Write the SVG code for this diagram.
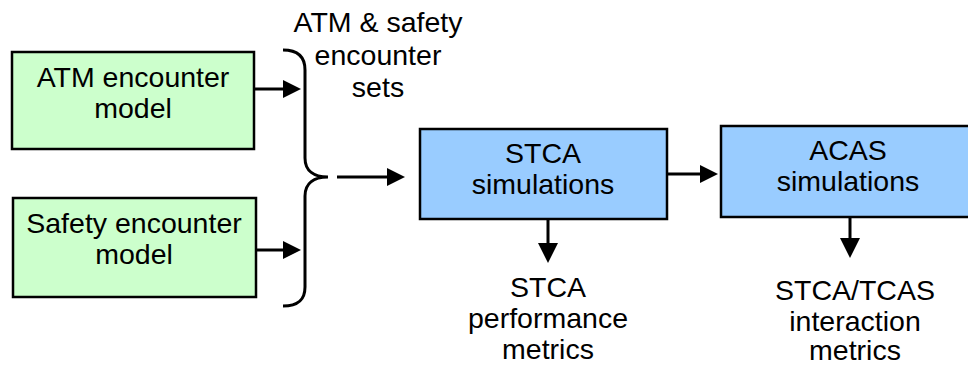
<svg xmlns="http://www.w3.org/2000/svg" width="968" height="367" viewBox="0 0 968 367">
<style>
text{font-family:"Liberation Sans",Arial,sans-serif;font-size:28.5px;fill:#000;text-anchor:middle}
.g{fill:#ccffcc;stroke:#000;stroke-width:2.5}
.b{fill:#99ccff;stroke:#000;stroke-width:2.5}
.l{stroke:#000;stroke-width:3;fill:none}
.h{fill:#000}
</style>
<rect width="968" height="367" fill="#fff"/>
<g id="atm-model">
<rect class="g" x="12" y="52" width="242" height="97"/>
<text x="133" y="87">ATM encounter</text>
<text x="133" y="118">model</text>
</g>
<g id="safety-model">
<rect class="g" x="13" y="198" width="243" height="99"/>
<text x="134" y="233">Safety encounter</text>
<text x="134" y="264">model</text>
</g>
<g id="encounter-sets">
<path class="l" d="M283,50 C298,50 305,57 305,70 L305,158 C305,171 314,177 328,177 C314,177 305,183 305,196 L305,287 C305,300 298,306 283,306"/>
<text x="378" y="32">ATM &amp; safety</text>
<text x="378" y="65">encounter</text>
<text x="378" y="97">sets</text>
</g>
<g id="stca-sim">
<rect class="b" x="420" y="129" width="247" height="90"/>
<text x="543" y="163">STCA</text>
<text x="543" y="194">simulations</text>
</g>
<g id="acas-sim">
<rect class="b" x="721" y="126" width="260" height="91"/>
<text x="848" y="160">ACAS</text>
<text x="848" y="191">simulations</text>
</g>
<g id="stca-metrics">
<text x="548" y="297">STCA</text>
<text x="548" y="328">performance</text>
<text x="548" y="359">metrics</text>
</g>
<g id="interaction-metrics">
<text x="855" y="300">STCA/TCAS</text>
<text x="855" y="331">interaction</text>
<text x="855" y="360">metrics</text>
</g>
<g id="connectors">
<line class="l" x1="254" y1="89" x2="285" y2="89"/>
<polygon class="h" points="283,80 301,89 283,98"/>
<line class="l" x1="256" y1="250" x2="285" y2="250"/>
<polygon class="h" points="283,241 301,250 283,259"/>
<line class="l" x1="337" y1="177" x2="390" y2="177"/>
<polygon class="h" points="387,168 405,177 387,186"/>
<line class="l" x1="668" y1="174" x2="702" y2="174"/>
<polygon class="h" points="700,165 718,174 700,183"/>
<line class="l" x1="548" y1="219" x2="548" y2="246"/>
<polygon class="h" points="538,243 558,243 548,263"/>
<line class="l" x1="850" y1="217" x2="850" y2="241"/>
<polygon class="h" points="840,238 860,238 850,258"/>
</g>
</svg>
